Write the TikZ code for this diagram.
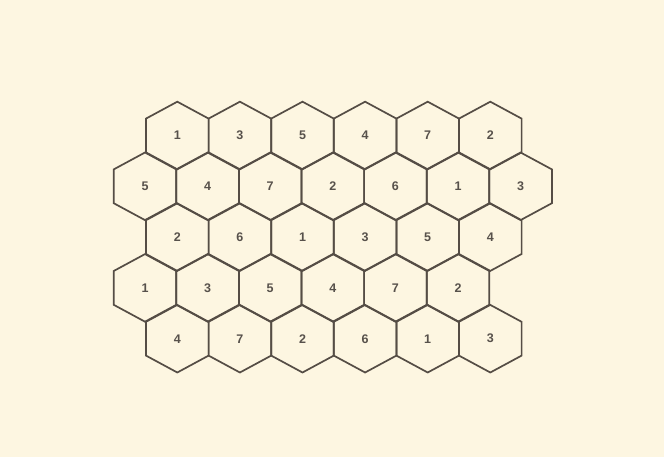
\documentclass[tikz,border=0pt]{standalone}
\usepackage{fontspec}
\setmainfont{Liberation Sans}
\definecolor{bg}{HTML}{FDF6E1}
\definecolor{edge}{HTML}{554D45}
\definecolor{num}{HTML}{57514B}
\begin{document}
\begin{tikzpicture}[x=1pt,y=-1pt,
  hexline/.style={draw=edge,line width=1.7pt,line join=miter},
  lbl/.style={text=num,font=\bfseries\fontsize{12.5}{14}\selectfont,inner sep=0pt},
  hexcell/.pic={\draw[hexline] (0,-33.8) -- (31.3,-16.9) -- (31.3,16.9) -- (0,33.8) -- (-31.3,16.9) -- (-31.3,-16.9) -- cycle;}]
\fill[bg] (0,0) rectangle (664,457);
\useasboundingbox (0,0) rectangle (664,457);
\foreach \r/\xs/\lst in {0/177.3/{1,3,5,4,7,2},1/145/{5,4,7,2,6,1,3},2/177.3/{2,6,1,3,5,4},3/145/{1,3,5,4,7,2},4/177.3/{4,7,2,6,1,3}}{
  \foreach \n [count=\c from 0] in \lst {
    \pgfmathsetmacro\hx{\xs+62.6*\c}
    \pgfmathsetmacro\hy{135.5+50.8*\r}
    \pic at (\hx,\hy) {hexcell};
    \node[lbl] (h\r-\c) at (\hx,\hy) {\n};
  }
}
\end{tikzpicture}
\end{document}
